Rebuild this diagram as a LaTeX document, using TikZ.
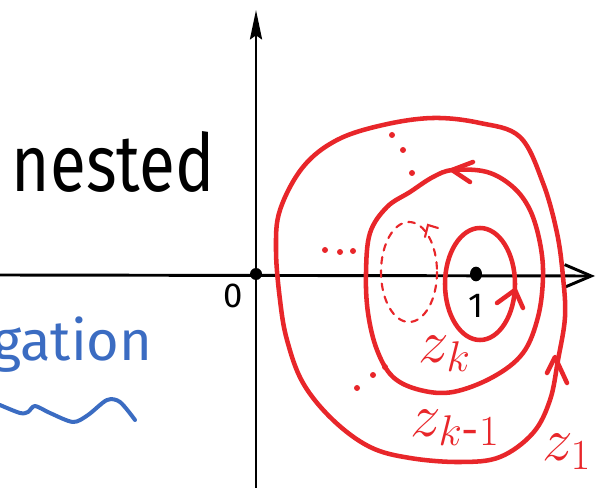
\RequirePackage{fix-cm}
\documentclass[tikz,border=0pt]{standalone}
\usepackage{amsmath}
\usepackage{fontspec}
\setmainfont{Fira Sans}
\usetikzlibrary{arrows.meta,shapes.geometric}
\definecolor{penred}{HTML}{E8262A}
\definecolor{penblue}{HTML}{3B6CC2}

\begin{document}
\begin{tikzpicture}[x=0.75pt, y=-0.75pt,
  axis/.style={line width=2.2pt, black},
  pen/.style={line width=3.4pt, draw=penred, line cap=round, line join=round},
  ghost/.style={line width=1.6pt, draw=penred, dash pattern=on 5pt off 5pt, line cap=round},
  bluepen/.style={line width=3pt, draw=penblue, line cap=round, line join=round},
  dot/.style={circle, fill=black, inner sep=0pt, minimum size=9pt},
  lbl/.style={text=penred, font=\fontsize{46}{46}\selectfont},
]
\useasboundingbox (0,0) rectangle (596,488);

% Axes
\draw[axis, -{Stealth[length=22pt, width=9pt, inset=3pt]}] (256,488) -- (256,10);
\draw[axis, -{Straight Barb[length=20pt, width=17pt, line width=2.2pt]}] (0,275) -- (595,276);
\node[dot] (orig) at (256,274) {};
\node[dot, ellipse, minimum width=9pt, minimum height=11pt] (one) at (476,274) {};
\node[font=\fontsize{26}{26}\selectfont] (zero) at (233,296) {0};
\node[font=\fontsize{26}{26}\selectfont] (onelbl) at (476,306) {1};

% Words
\node[anchor=base west, font=\fontsize{60}{60}\selectfont, xscale=0.82, transform shape] (nested) at (8,192) {nested};
\node[anchor=base east, text=penblue, font=\fontsize{42}{42}\selectfont] (gation) at (157,360) {gation};
\draw[bluepen] plot[smooth] coordinates {(0,405) (20,413) (28,412) (35,406) (50,413) (73,422) (88,415) (107,400) (120,402) (135,420)};

% Contours
\draw[pen] plot[smooth cycle, tension=0.6] coordinates {(276,250) (280,210) (303,167) (337,140) (383,125) (433,118) (480,123) (520,137) (543,183) (557,233) (563,277) (565,317) (558,360) (550,400) (533,433) (500,457) (460,462) (410,458) (370,447) (333,420) (303,383) (287,340) (280,300)};
\draw[pen] plot[smooth cycle, tension=0.6] coordinates {(366,273) (370,233) (387,207) (410,192) (433,177) (453,170) (487,172) (513,187) (530,210) (540,243) (543,277) (538,317) (523,353) (493,377) (453,392) (420,390) (393,377) (377,350) (368,313)};
\draw[pen] (480,284) ellipse [x radius=35, y radius=56];
\draw[ghost] (409,272) ellipse [x radius=28, y radius=50];

% Orientation marks
\draw[pen] (497,303) -- (515,290) -- (523,308);
\draw[pen] (473,162) -- (452,170) -- (470,182);
\draw[pen] (547,373) -- (555,357) -- (567,383);
\draw[line width=1.6pt, penred, line cap=round] (425,237) -- (428,225) -- (438,228);

% Dots
\foreach \p in {(392,135),(403,150),(412,173),(325,250),(340,252),(353,251),(385,367),(373,375),(357,388)}
  \fill[penred] \p circle (3);

% Labels
\node[lbl, anchor=base west] (zk) at (414,362) {$z_k$};
\node[lbl, anchor=base west] (zkm) at (406,436) {$z_{k\text{-}1}$};
\node[lbl, anchor=base west] (zone) at (538,460) {$z_1$};
\end{tikzpicture}
\end{document}
